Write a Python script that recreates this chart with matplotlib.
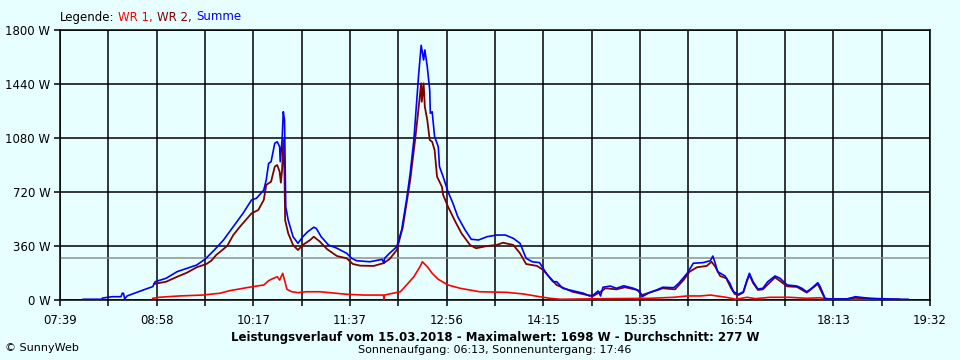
import numpy as np
import matplotlib
matplotlib.use("Agg")
import matplotlib.pyplot as plt

# time in minutes after midnight, power in W
summe_t = [478, 493, 494, 498, 502, 509, 510, 511, 512, 514, 522, 530, 535, 537, 546, 555, 563, 571, 578, 585,
           593, 601, 609, 616, 620, 626, 628, 630, 632, 635, 637, 639, 639.5, 641, 642, 643, 644, 646, 650, 654,
           658, 662, 667, 669, 673, 679, 686, 694, 698, 702, 713, 723, 724.5, 725, 729, 735, 739, 743, 746, 749,
           751, 753, 755, 757, 758, 760, 762, 762.5, 764, 766, 769, 770, 773, 777, 781, 785, 791, 796, 802, 809,
           817, 824, 830.5, 836, 841, 846, 852, 858, 863, 866, 871, 879, 888, 893, 896, 900, 902, 904, 910, 915,
           921, 929, 934, 936, 942, 948, 953, 962, 966, 973, 978, 986, 992, 994, 996, 998, 1004, 1008, 1011, 1015,
           1019, 1022, 1024, 1027, 1031, 1035, 1039, 1045, 1049, 1055, 1063, 1067, 1071, 1075, 1080, 1082, 1086,
           1090, 1104, 1111, 1115, 1123, 1131, 1147, 1154]
summe_w = [5, 5, 13, 18, 22, 22, 45, 45, 7, 27, 51, 75, 89, 122, 145, 189, 211, 233, 273, 329,
           400, 489, 578, 667, 678, 733, 800, 911, 922, 1045, 1055, 1022, 922, 1067, 1255, 1200, 622, 533, 422, 378,
           422, 455, 485, 478, 422, 367, 345, 311, 278, 262, 255, 271, 245, 278, 311, 355, 467, 667, 845, 1067,
           1289, 1511, 1698, 1600, 1667, 1555, 1400, 1245, 1255, 1089, 1022, 889, 822, 722, 645, 555, 467, 405, 400, 422,
           433, 433, 411, 378, 278, 255, 249, 172, 122, 122, 78, 62, 45, 27, 33, 60, 27, 85, 93, 78,
           95, 78, 60, 22, 49, 67, 85, 82, 111, 178, 245, 249, 262, 293, 245, 189, 160, 111, 55, 38,
           55, 133, 178, 122, 73, 78, 122, 160, 145, 100, 93, 78, 55, 78, 115, 89, 11,
           7, 7, 22, 18, 11, 9, 5, 5]

wr2_t = [536, 546, 555, 563, 571, 579, 583, 587, 596, 601, 606.5, 616, 621.5, 626, 628, 632, 635, 637, 639, 640,
         641, 642, 643, 643.5, 646, 650, 654, 658, 664, 667, 672, 678, 686, 694, 699, 705, 716, 724, 729, 735,
         740, 746, 750, 753, 755, 755.5, 757, 758, 760, 762, 764, 766, 768, 772, 773, 777, 783, 788, 795, 800,
         809, 817, 822, 830.5, 836, 841, 850, 855, 861, 866, 879, 891, 896, 902, 906, 915, 922, 932, 936, 942,
         953, 963, 970, 975, 981, 989, 993, 996, 1000, 1005, 1009, 1012, 1015, 1019, 1022, 1024, 1027, 1031, 1035, 1045,
         1055, 1063, 1071, 1080, 1086, 1104, 1111, 1115, 1131, 1147]
wr2_w = [107, 122, 155, 182, 218, 240, 262, 300, 360, 433, 489, 578, 600, 667, 767, 789, 889, 900, 855, 782,
         867, 1067, 833, 533, 445, 367, 333, 367, 400, 422, 389, 338, 293, 278, 240, 229, 227, 245, 272, 333,
         489, 800, 1067, 1289, 1445, 1322, 1445, 1289, 1200, 1067, 1055, 1000, 822, 755, 700, 622, 522, 445, 367, 345,
         360, 367, 382, 367, 311, 240, 227, 200, 145, 100, 55, 33, 27, 55, 78, 71, 85, 67, 33, 49,
         78, 71, 133, 189, 218, 227, 255, 222, 160, 145, 78, 40, 33, 50, 127, 167, 113, 67, 71, 151,
         91, 87, 49, 107, 7, 7, 15, 12, 6, 4]

wr1_t = [535, 540, 557, 576, 590, 598, 609, 617, 626, 630, 634, 637, 639, 641.5, 643, 645, 649, 654, 661, 672,
         680, 694, 708, 724, 724.5, 725, 729, 738, 743, 749, 754, 756, 760, 764, 769, 777, 787, 803, 825, 839,
         852, 861, 869, 907, 942, 962, 973, 984, 992, 1005, 1013, 1022, 1029, 1041, 1057, 1071, 1082, 1087, 1131]
wr1_w = [11, 18, 27, 33, 45, 62, 78, 89, 100, 129, 145, 155, 133, 178, 133, 71, 55, 49, 55, 55,
         49, 38, 33, 33, 5, 33, 40, 55, 100, 155, 222, 255, 222, 178, 138, 100, 78, 55, 51, 40,
         22, 11, 5, 9, 11, 18, 27, 27, 33, 18, 5, 18, 9, 18, 18, 11, 15, 5, 3]

average_w = 277
y_ticks = [0, 360, 720, 1080, 1440, 1800]
x_tick_labels = ["07:39", "08:58", "10:17", "11:37", "12:56", "14:15", "15:35", "16:54", "18:13", "19:32"]
t_start, t_end = 459, 1172

bg = "#E8FFFF"
fig = plt.figure(figsize=(9.6, 3.6), dpi=100, facecolor=bg)
ax = fig.add_axes([60 / 960, 60 / 360, 870 / 960, 270 / 360])
ax.set_facecolor(bg)

ax.axhline(average_w, color="#909090", lw=1.1, zorder=1)
ax.plot(wr1_t, wr1_w, color="#FF0000", lw=1.2, zorder=3)
ax.plot(wr2_t, wr2_w, color="#800000", lw=1.3, zorder=4)
ax.plot(summe_t, summe_w, color="#0000FF", lw=1.2, zorder=5)

ax.set_xlim(t_start, t_end)
ax.set_ylim(0, 1800)
grid_x = np.linspace(t_start, t_end, 19)
ax.set_xticks(grid_x)
ax.set_xticklabels([x_tick_labels[i // 2] if i % 2 == 0 else "" for i in range(19)])
ax.set_yticks(y_ticks)
ax.set_yticklabels([f"{v} W" for v in y_ticks])
ax.grid(True, color="black", lw=1.1, zorder=0)
ax.set_axisbelow(True)
for s in ax.spines.values():
    s.set_color("black")
    s.set_linewidth(1.1)
ax.tick_params(axis="both", direction="out", length=4, width=1.1, color="black",
               labelsize=8.5, pad=3)
ax.tick_params(axis="x", pad=6)

fs = 8.5
renderer = fig.canvas.get_renderer()
x = 60
for txt, col in [("Legende:", "black"), ("WR 1,", "#FF0000"), ("WR 2,", "#800000"), ("Summe", "#0000FF")]:
    t = fig.text(x / 960, 1 - 17 / 360, txt, fontsize=fs, va="center", ha="left", color=col)
    bb = t.get_window_extent(renderer=renderer)
    x += bb.width + 4

fig.text(495 / 960, 1 - 337 / 360,
         "Leistungsverlauf vom 15.03.2018 - Maximalwert: 1698 W - Durchschnitt: 277 W",
         fontsize=8.5, fontweight="bold", ha="center", va="center")
fig.text(495 / 960, 1 - 350 / 360, "Sonnenaufgang: 06:13, Sonnenuntergang: 17:46",
         fontsize=8, ha="center", va="center")
fig.text(5 / 960, 1 - 348 / 360, "© SunnyWeb", fontsize=8, ha="left", va="center")

fig.savefig("out.png", dpi=100, facecolor=bg)
